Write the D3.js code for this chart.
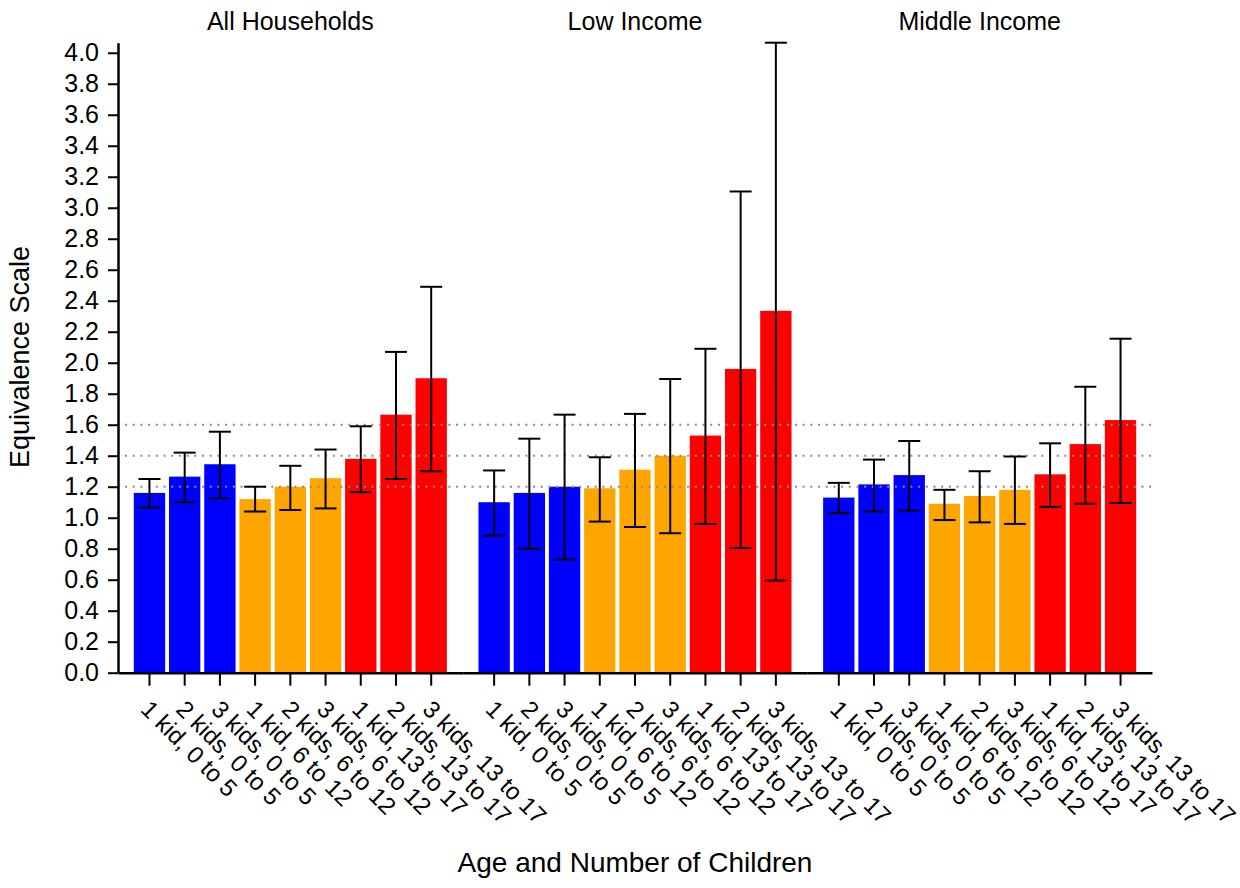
<!DOCTYPE html>
<html><head><meta charset="utf-8">
<script src="https://cdn.jsdelivr.net/npm/d3@7"></script>
<style>
html,body{margin:0;padding:0;background:#fff;}
text{font-family:"Liberation Sans",Arial,sans-serif;fill:#000;}
</style></head>
<body><svg id="c" width="1240" height="888"></svg>
<script>
const panels = ["All Households","Low Income","Middle Income"];
const categories = ["1 kid, 0 to 5","2 kids, 0 to 5","3 kids, 0 to 5","1 kid, 6 to 12","2 kids, 6 to 12","3 kids, 6 to 12","1 kid, 13 to 17","2 kids, 13 to 17","3 kids, 13 to 17"];
const ageGroup = ["0 to 5","0 to 5","0 to 5","6 to 12","6 to 12","6 to 12","13 to 17","13 to 17","13 to 17"];
const ageGroups = ["0 to 5","6 to 12","13 to 17"];
const groupColors = ["#0000FF","#FFA500","#FF0000"];

const allValues = [1.16,1.265,1.345,1.12,1.20,1.255,1.38,1.665,1.90];
const allLower  = [1.065,1.10,1.125,1.04,1.05,1.06,1.165,1.25,1.30];
const allUpper  = [1.25,1.42,1.555,1.20,1.335,1.44,1.59,2.07,2.49];

const lowValues = [1.10,1.16,1.20,1.19,1.31,1.40,1.53,1.96,2.335];
const lowLower  = [0.885,0.80,0.73,0.975,0.94,0.90,0.96,0.805,0.595];
const lowUpper  = [1.305,1.51,1.665,1.39,1.67,1.895,2.09,3.105,4.065];

const midValues = [1.13,1.215,1.275,1.09,1.14,1.18,1.28,1.475,1.63];
const midLower  = [1.03,1.04,1.045,0.985,0.97,0.96,1.07,1.09,1.095];
const midUpper  = [1.225,1.375,1.495,1.18,1.30,1.395,1.48,1.845,2.155];

const refLines = [1.2,1.4,1.6];
const yTicks = d3.range(0, 4.0001, 0.2);

const panelData = [
  {values: allValues, lower: allLower, upper: allUpper},
  {values: lowValues, lower: lowLower, upper: lowUpper},
  {values: midValues, lower: midLower, upper: midUpper}
];

const svg = d3.select("#c");
const mLeft = 118, mRight = 1152, mTop = 42.7, mBottom = 672.7;

const y = d3.scaleLinear().domain([0, 4.065]).range([mBottom, mTop]);
const px = d3.scaleBand().domain(panels).range([mLeft, mRight]).padding(0);
const color = d3.scaleOrdinal().domain(ageGroups).range(groupColors);

const gBars = svg.append("g");
const gRef = svg.append("g");
const gErr = svg.append("g");
const gAx = svg.append("g");

panels.forEach((p, i) => {
  const p0 = px(p), p1 = p0 + px.bandwidth();
  const x = d3.scaleBand().domain(categories).range([p0, p1]).paddingInner(0.11).paddingOuter(0.4485);
  const d = panelData[i];
  const rows = categories.map((c, j) => ({c, v: d.values[j], lo: d.lower[j], hi: d.upper[j], g: ageGroup[j]}));

  gBars.selectAll(null).data(rows).join("rect")
    .attr("x", r => x(r.c)).attr("width", x.bandwidth())
    .attr("y", r => y(r.v)).attr("height", r => y(0) - y(r.v))
    .attr("fill", r => color(r.g));

  const cx = r => x(r.c) + x.bandwidth()/2;
  const eg = gErr.selectAll(null).data(rows).join("g");
  eg.append("line").attr("x1", cx).attr("x2", cx).attr("y1", r => y(r.lo)).attr("y2", r => y(r.hi))
    .attr("stroke", "#000").attr("stroke-width", 2);
  eg.append("line").attr("x1", r => cx(r)-11).attr("x2", r => cx(r)+11).attr("y1", r => y(r.hi)).attr("y2", r => y(r.hi))
    .attr("stroke", "#000").attr("stroke-width", 2);
  eg.append("line").attr("x1", r => cx(r)-11).attr("x2", r => cx(r)+11).attr("y1", r => y(r.lo)).attr("y2", r => y(r.lo))
    .attr("stroke", "#000").attr("stroke-width", 2);

  const ax = gAx.append("g").attr("transform", `translate(0,${mBottom})`)
    .call(d3.axisBottom(x).tickSize(13).tickSizeOuter(0).tickFormat(""));
  ax.select(".domain").attr("stroke-width", 2.5);
  ax.selectAll(".tick line").attr("stroke-width", 2);

  gAx.selectAll(null).data(categories).join("text")
    .attr("transform", c => `translate(${x(c) + x.bandwidth()/2 - 4},${mBottom + 32}) rotate(45)`)
    .attr("dy", "0.35em")
    .attr("text-anchor", "start")
    .style("font-size", "24px")
    .text(c => c);

  svg.append("text").attr("x", (p0+p1)/2).attr("y", 30).attr("text-anchor", "middle")
    .style("font-size", "25px").text(p);
});

gRef.selectAll(null).data(refLines).join("line")
  .attr("x1", mLeft + 7).attr("x2", mRight).attr("y1", v => y(v)).attr("y2", v => y(v))
  .attr("stroke", "#8a8a8a").attr("stroke-width", 2).attr("stroke-dasharray", "2,5.7");

const yax = gAx.append("g").attr("transform", `translate(${mLeft},0)`)
  .call(d3.axisLeft(y).tickValues(yTicks).tickSize(10).tickPadding(9).tickSizeOuter(0).tickFormat(d3.format(".1f")));
yax.select(".domain").attr("stroke-width", 2.5);
yax.selectAll(".tick line").attr("stroke-width", 2);
yax.selectAll(".tick text").style("font-size", "25px").style("font-family", '"Liberation Sans",Arial,sans-serif');

svg.append("text").attr("x", 635).attr("y", 872).attr("text-anchor", "middle")
  .style("font-size", "28px").text("Age and Number of Children");
svg.append("text").attr("transform", "translate(29,357) rotate(-90)").attr("text-anchor", "middle")
  .style("font-size", "27px").text("Equivalence Scale");
</script></body></html>
